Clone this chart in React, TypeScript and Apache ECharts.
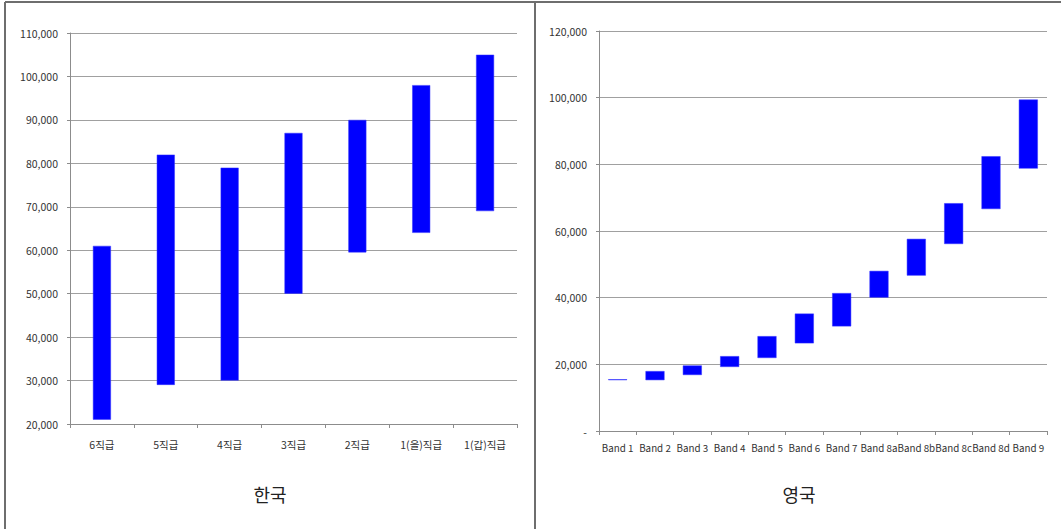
import React, { useEffect, useRef } from "react";
import * as echarts from "echarts";

const krCategories = ["6직급", "5직급", "4직급", "3직급", "2직급", "1(을)직급", "1(갑)직급"];
const krLow = [21000, 29000, 30000, 50000, 59500, 64000, 69000];
const krHigh = [61000, 82000, 79000, 87000, 90000, 98000, 105000];

const ukCategories = ["Band 1", "Band 2", "Band 3", "Band 4", "Band 5", "Band 6", "Band 7", "Band 8a", "Band 8b", "Band 8c", "Band 8d", "Band 9"];
const ukLow = [15251, 15251, 16800, 19217, 21909, 26302, 31383, 40028, 46625, 56104, 66582, 78720];
const ukHigh = [15516, 17978, 19655, 22458, 28462, 35225, 41373, 48034, 57640, 68340, 82434, 99437];

const krTitle = "한국";
const ukTitle = "영국";

const FONT = "'Noto Sans CJK KR', 'Noto Sans', sans-serif";
const GRID = "#a0a0a0";
const AXIS = "#8c8c8c";
const LABEL = "#333333";
const BLUE = "#0000FF";

const fmt = (v: number) => (v === 0 ? "-" : v.toLocaleString("en-US"));

export default function App() {
  const ref = useRef<HTMLDivElement>(null);
  useEffect(() => {
    if (!ref.current) return;
    const chart = echarts.init(ref.current, undefined, { renderer: "svg" });
    const xAxisBase = (gridIndex: number, data: string[], margin: number, fontSize: number) => ({
      type: "category",
      gridIndex,
      data,
      axisLine: { lineStyle: { color: AXIS, width: 1 } },
      axisTick: { show: true, length: 4, lineStyle: { color: AXIS } },
      axisLabel: { interval: 0, color: LABEL, fontSize, fontFamily: FONT, margin },
      splitLine: { show: false },
    });
    const yAxisBase = (gridIndex: number, min: number, max: number) => ({
      type: "value",
      gridIndex,
      min,
      max,
      interval: gridIndex === 0 ? 10000 : 20000,
      axisLine: { show: true, lineStyle: { color: AXIS, width: 1 } },
      axisTick: { show: true, length: 3, lineStyle: { color: AXIS } },
      axisLabel: { color: LABEL, fontSize: 10.5, fontFamily: FONT, margin: 12, formatter: fmt },
      splitLine: { show: true, lineStyle: { color: GRID, width: 1 } },
    });
    chart.setOption({
      animation: false,
      backgroundColor: "#ffffff",
      grid: [
        { left: 70, top: 33, width: 447, height: 391, containLabel: false },
        { left: 599, top: 31, width: 448, height: 400, containLabel: false },
      ],
      xAxis: [xAxisBase(0, krCategories, 15, 10.5), xAxisBase(1, ukCategories, 12, 9.8)],
      yAxis: [yAxisBase(0, 20000, 110000), yAxisBase(1, 0, 120000)],
      series: [
        {
          type: "bar",
          xAxisIndex: 0,
          yAxisIndex: 0,
          stack: "kr",
          data: krLow,
          barWidth: 18,
          itemStyle: { color: "transparent" },
          silent: true,
        },
        {
          type: "bar",
          xAxisIndex: 0,
          yAxisIndex: 0,
          stack: "kr",
          data: krHigh.map((h, i) => h - krLow[i]),
          barWidth: 18,
          itemStyle: { color: BLUE, borderColor: "#3333ff", borderWidth: 0.5 },
        },
        {
          type: "bar",
          xAxisIndex: 1,
          yAxisIndex: 1,
          stack: "uk",
          data: ukLow,
          barWidth: 19,
          itemStyle: { color: "transparent" },
          silent: true,
        },
        {
          type: "bar",
          xAxisIndex: 1,
          yAxisIndex: 1,
          stack: "uk",
          data: ukHigh.map((h, i) => h - ukLow[i]),
          barWidth: 19,
          itemStyle: { color: BLUE, borderColor: "#3333ff", borderWidth: 0.5 },
        },
      ],
      graphic: [
        { type: "line", shape: { x1: 5, y1: 2, x2: 1061, y2: 2 }, style: { stroke: "#6e6e6e", lineWidth: 2 } },
        { type: "line", shape: { x1: 5, y1: 2, x2: 5, y2: 529 }, style: { stroke: "#6e6e6e", lineWidth: 2 } },
        { type: "line", shape: { x1: 535, y1: 2, x2: 535, y2: 529 }, style: { stroke: "#6e6e6e", lineWidth: 2 } },
        {
          type: "text",
          x: 270,
          y: 494,
          style: { text: krTitle, fontSize: 18, fontFamily: FONT, fill: "#222", textAlign: "center", textVerticalAlign: "middle" },
        },
        {
          type: "text",
          x: 799,
          y: 494,
          style: { text: ukTitle, fontSize: 18, fontFamily: FONT, fill: "#222", textAlign: "center", textVerticalAlign: "middle" },
        },
      ],
    });
    return () => chart.dispose();
  }, []);
  return (
    <div
      ref={ref}
      style={{ position: "fixed", left: 0, top: 0, width: 1061, height: 529, background: "#fff" }}
    />
  );
}
